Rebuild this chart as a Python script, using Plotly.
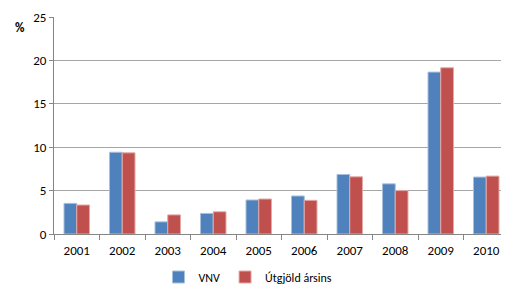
import plotly.graph_objects as go

years = ["2001", "2002", "2003", "2004", "2005", "2006", "2007", "2008", "2009", "2010"]
vnv = [3.53, 9.42, 1.40, 2.37, 3.92, 4.38, 6.86, 5.78, 18.65, 6.56]
utgjold = [3.34, 9.35, 2.20, 2.56, 4.03, 3.88, 6.59, 5.00, 19.15, 6.67]
y_ticks = [0, 5, 10, 15, 20, 25]

font_family = "Carlito, Calibri, 'Open Sans', sans-serif"

# the page body adds an 8px offset, so the figure is sized/placed to compensate
W, H = 501, 279
ML, MT, MB, MR = 46, 9, 53, 0
plot_h = H - MT - MB

fig = go.Figure()
fig.add_trace(go.Bar(x=years, y=vnv, name="VNV",
                     marker=dict(color="#4F81BD", line=dict(color="#A7C0DE", width=1))))
fig.add_trace(go.Bar(x=years, y=utgjold, name="Útgjöld ársins",
                     marker=dict(color="#C0504D", line=dict(color="#E3A9A7", width=1))))

fig.update_layout(
    width=W, height=H,
    margin=dict(l=ML, r=MR, t=MT, b=MB, autoexpand=False),
    paper_bgcolor="white", plot_bgcolor="white",
    barmode="group", bargap=0.44, bargroupgap=0,
    font=dict(family=font_family, size=13, color="#000000"),
    showlegend=True,
    legend=dict(orientation="h", x=(248 - 8) / W, xanchor="center",
                xref="container", yref="container",
                y=1 - (277 - 8) / H, yanchor="middle",
                font=dict(size=12), itemwidth=30, traceorder="normal"),
    annotations=[dict(text="<b>%</b>", x=-(ML - 5) / (W - ML - MR), y=(plot_h - (27 - 8 - MT)) / plot_h,
                      xref="paper", yref="paper", xanchor="left", yanchor="middle",
                      showarrow=False, font=dict(size=13))],
)

fig.update_xaxes(type="category", showline=True, linecolor="#868686", linewidth=1,
                 ticks="outside", ticklen=5, tickcolor="#868686", tickson="boundaries",
                 showgrid=False, tickfont=dict(size=13), ticklabelstandoff=4)
fig.update_yaxes(range=[0, 25], tickvals=y_ticks, showline=True, linecolor="#868686",
                 linewidth=1, ticks="outside", ticklen=4, tickcolor="#868686",
                 showgrid=True, gridcolor="#A6A6A6", gridwidth=1, zeroline=False,
                 tickfont=dict(size=13))

fig.write_html("out.html")
